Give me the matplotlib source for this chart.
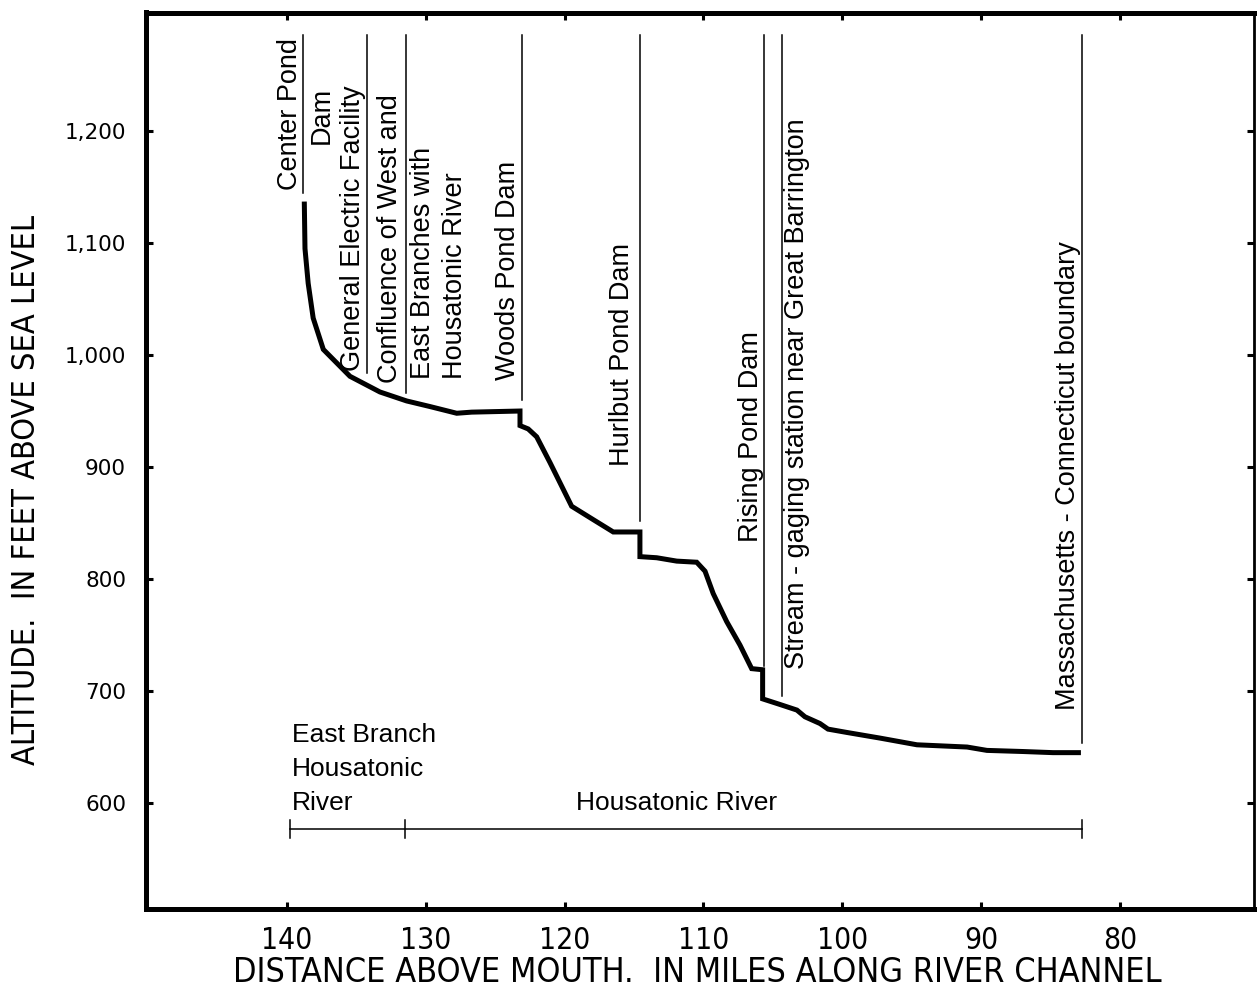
import matplotlib
matplotlib.use("Agg")
import matplotlib.pyplot as plt

# ---------------- data ----------------
profile_miles = [138.75, 138.70, 138.47, 138.11, 137.38, 135.46, 133.30, 131.38, 129.70,
                 127.77, 126.69, 123.21, 123.21, 122.62, 122.01, 121.05, 119.49, 117.93,
                 116.49, 114.57, 114.57, 113.36, 111.92, 110.48, 109.88, 109.29, 108.32,
                 107.36, 106.52, 105.73, 105.73, 104.48, 103.26, 102.68, 101.60, 101.02,
                 99.65, 97.28, 94.61, 91.00, 89.57, 86.97, 84.81, 83.80, 82.80]
profile_altitude = [1137, 1095, 1064, 1033, 1005, 981, 967, 959, 954,
                    948, 949, 950, 937, 934, 927, 904, 865, 853,
                    842, 842, 820, 819, 816, 815, 807, 787, 762,
                    741, 720, 719, 693, 688, 683, 677, 671, 666,
                    663, 658, 652, 650, 647, 646, 645, 645, 645]

x_ticks = [140, 130, 120, 110, 100, 90, 80]
y_ticks = [600, 700, 800, 900, 1000, 1100, 1200]
y_tick_labels = ["600", "700", "800", "900", "1,000", "1,100", "1,200"]

landmark_miles = [138.85, 134.2, 131.4, 123.07, 114.57, 105.63, 104.34, 82.72]
landmark_bottom = [1144.6, 984, 966, 960, 852, 722, 696, 654]

reach_bounds = [139.8, 131.5, 82.7]
reach_names = ["East Branch\nHousatonic\nRiver", "Housatonic River"]

x_label = "DISTANCE ABOVE MOUTH.  IN MILES ALONG RIVER CHANNEL"
y_label = "ALTITUDE.  IN FEET ABOVE SEA LEVEL"

# ---------------- figure ----------------
W, H = 1257, 993
fig = plt.figure(figsize=(W / 100, H / 100), dpi=100)
ax = fig.add_axes([145.5 / W, (H - 909) / H, (1254 - 145.5) / W, (909 - 12.5) / H])
ax.set_xlim(150.19, 70.33)
ax.set_ylim(505.4, 1305.8)

for side in ["left", "top", "bottom"]:
    ax.spines[side].set_linewidth(3.6)
ax.spines["right"].set_linewidth(2.0)

narrow = dict(family="DejaVu Sans", fontstretch="condensed")

ax.set_xticks(x_ticks)
ax.set_xticklabels([str(v) for v in x_ticks], fontsize=21.5, **narrow)
ax.set_yticks(y_ticks)
ax.set_yticklabels(y_tick_labels, family="DejaVu Sans", fontsize=15.5)
ax.tick_params(axis="both", direction="in", length=5, width=2.2, top=True, right=True)
ax.tick_params(axis="x", pad=12)
ax.tick_params(axis="y", pad=14)

ax.set_xlabel(x_label, fontsize=24.5, **narrow)
ax.set_ylabel(y_label, fontsize=23.3, **narrow)
ax.xaxis.set_label_coords(0.4977, -0.052)
ax.yaxis.set_label_coords(-0.0934, 0.467)

# profile
ax.plot(profile_miles, profile_altitude, color="black", lw=3.6, solid_joinstyle="miter",
        solid_capstyle="butt")

# landmark lines
top_alt = 1285.7
for m, b in zip(landmark_miles, landmark_bottom):
    ax.plot([m, m], [top_alt, b], color="black", lw=1.1)

ann = dict(rotation=90, family=["Liberation Sans", "DejaVu Sans"], fontsize=19.5, color="black")
ax.text(139.78, 1147, "Center Pond", ha="center", va="bottom", **ann)
ax.text(137.48, 1214, "Dam", ha="center", va="center", **ann)
ax.text(135.25, 986, "General Electric Facility", ha="center", va="bottom", **ann)
ax.text(132.58, 975, "Confluence of West and", ha="center", va="bottom", **ann)
ax.text(130.2, 979, "East Branches with", ha="center", va="bottom", **ann)
ax.text(127.9, 979, "Housatonic River", ha="center", va="bottom", **ann)
ax.text(124.08, 978, "Woods Pond Dam", ha="center", va="bottom", **ann)
ax.text(115.87, 901, "Hurlbut Pond Dam", ha="center", va="bottom", **ann)
ax.text(106.57, 833, "Rising Pond Dam", ha="center", va="bottom", **ann)
ax.text(103.26, 720, "Stream - gaging station near Great Barrington", ha="center", va="bottom", **ann)
ax.text(83.73, 683, "Massachusetts - Connecticut boundary", ha="center", va="bottom", **ann)

# reach brackets
br_y = 576.8
ax.plot([reach_bounds[0], reach_bounds[-1]], [br_y, br_y], color="black", lw=1.1)
for b in reach_bounds:
    ax.plot([b, b], [br_y - 8, br_y + 8], color="black", lw=1.1)
hz = dict(family=["Liberation Sans", "DejaVu Sans"], fontsize=19, color="black")
ax.text(139.64, 671.5, reach_names[0], ha="left", va="top", linespacing=1.52, **hz)
ax.text(111.9, 600, reach_names[1], ha="center", va="center", **hz)

fig.savefig("out.png", dpi=100)
